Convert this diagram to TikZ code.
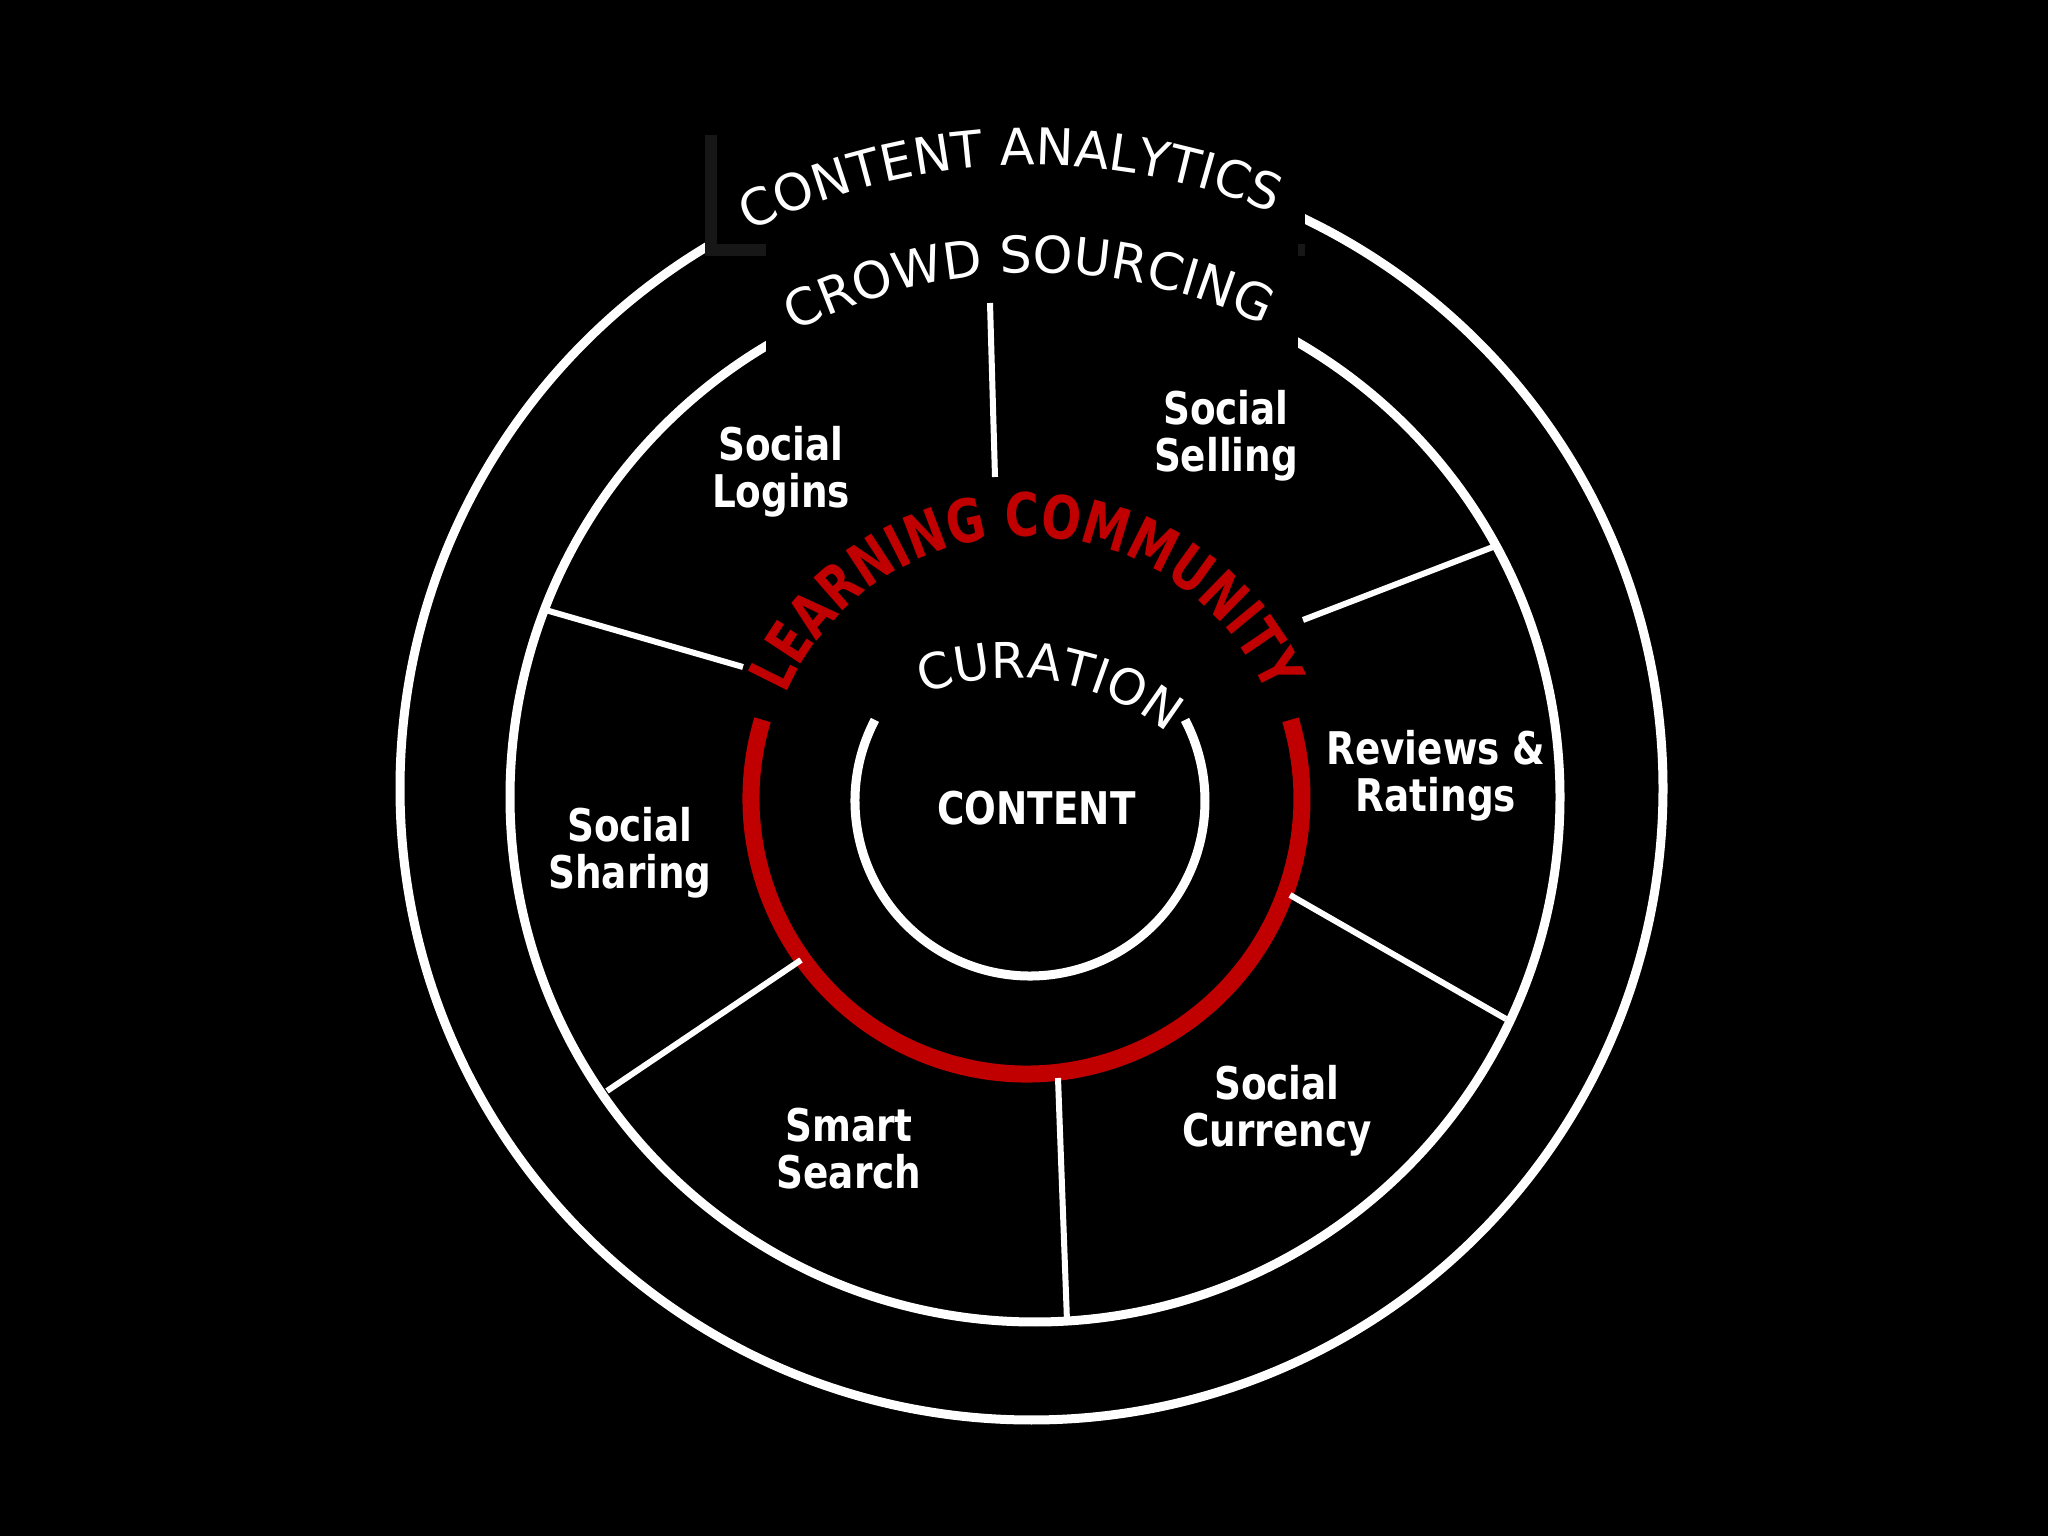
\documentclass[tikz,border=0pt]{standalone}
\usepackage{fontspec}
\setmainfont{DejaVu Sans}
\newfontfamily\tagfont[FakeStretch=0.83]{DejaVu Sans}
\newfontfamily\redfont[FakeStretch=0.78]{DejaVu Sans}
\usetikzlibrary{decorations.text}
\definecolor{ringred}{HTML}{C00000}
\definecolor{shadowgray}{HTML}{171717}

\begin{document}
\begin{tikzpicture}[x=0.01cm,y=0.01cm,
	ring/.style={draw=white,line width=0.09cm},
	spoke/.style={draw=white,line width=0.06cm},
	tag/.style={text=white,align=center,inner sep=0pt,font=\tagfont\bfseries\fontsize{12.8}{13.4}\selectfont}]
	\fill[black] (0,0) rectangle (2048,1536);%Hintergrund

	\coordinate (c1) at (1031.5,747.5);%Mitte aussen
	\coordinate (c2) at (1035,739);%Mitte Ring 2
	\coordinate (c3) at (1026.5,737.5);%Mitte rot
	\coordinate (c4) at (1030,735);%Mitte innen
	\coordinate (c5) at (1012,612);%Mitte Curation

	\draw[ring] (c1) circle (631.5);%aeusserer Kreis
	\draw[ring] (c2) circle (525);%zweiter Kreis

	\fill[black] (711,1286) rectangle (1305,1401);%Feld oben
	\draw[draw=shadowgray,line width=0.12cm] (711,1401) -- (711,1286) -- (1305,1286);%Schatten
	\fill[black] (766,1184) rectangle (1298,1294);%Feld Ring 2

	\draw[ringred,line width=0.17cm] (c3) ++(163.4:275.5) arc[start angle=163.4,end angle=376.6,radius=275.5];%roter Bogen
	\draw[ring] (c4) ++(152.4:175) arc[start angle=152.4,end angle=387.6,radius=175];%innerer Bogen

	\coordinate (s1a) at (990,1233);  \coordinate (s1b) at (995,1059);
	\coordinate (s2a) at (1303,916);  \coordinate (s2b) at (1493,989);
	\coordinate (s3a) at (1290,641);  \coordinate (s3b) at (1506,517);
	\coordinate (s4a) at (1058,458);  \coordinate (s4b) at (1067,215);
	\coordinate (s5a) at (801,576);   \coordinate (s5b) at (607,445);
	\coordinate (s6a) at (743,869);   \coordinate (s6b) at (542,927);
	\draw[spoke] (s1a) -- (s1b);
	\draw[spoke] (s2a) -- (s2b);
	\draw[spoke] (s3a) -- (s3b);
	\draw[spoke] (s4a) -- (s4b);
	\draw[spoke] (s5a) -- (s5b);
	\draw[spoke] (s6a) -- (s6b);

	\path[decorate,decoration={text along path,text align=center,text color=white,
		text={|\fontsize{14.4}{16}\selectfont|CONTENT ANALYTICS}}]
		(c1) ++(140:623.5) arc[start angle=140,end angle=44,radius=623.5];
	\path[decorate,decoration={text along path,text align=center,text color=white,
		text={|\fontsize{14.4}{16}\selectfont|CROWD SOURCING}}]
		(c2) ++(140:524) arc[start angle=140,end angle=41.4,radius=524];
	\path[decorate,decoration={text along path,text align=center,text color=ringred,
		text={|\redfont\bfseries\fontsize{17}{18}\selectfont|LEARNING COMMUNITY}}]
		(c3) ++(172:262) arc[start angle=172,end angle=8,radius=262];
	\path[decorate,decoration={text along path,text align=center,text color=white,
		text={|\fontsize{14}{16}\selectfont|CURATION}}]
		(c5) ++(126:246) arc[start angle=126,end angle=36,radius=246];

	\node[tag] (content) at (1036.5,727.5) {CONTENT};
	\node[tag] (logins) at (781,1064) {Social\\Logins};
	\node[tag] (selling) at (1226,1100) {Social\\Selling};
	\node[tag] (reviews) at (1436,760) {Reviews \&\\Ratings};
	\node[tag] (sharing) at (630,683) {Social\\Sharing};
	\node[tag] (search) at (849,387) {Smart\\Search};
	\node[tag] (currency) at (1277,425) {Social\\Currency};
\end{tikzpicture}
\end{document}
